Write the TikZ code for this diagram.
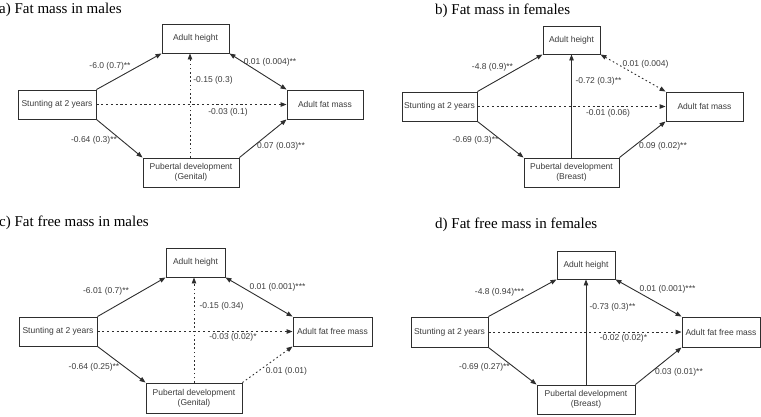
\documentclass[tikz,border=0pt]{standalone}
\usepackage{fontspec}
\setmainfont{Liberation Serif}
\setsansfont{Liberation Sans}
\usetikzlibrary{arrows.meta}
\definecolor{ink}{HTML}{2E2E2E}
\definecolor{lab}{HTML}{3C3C3C}
\tikzset{
  box/.style={draw=ink, line width=0.9pt, fill=white, inner sep=0pt, minimum height=29pt,
    font=\sffamily\fontsize{8.5}{10}\selectfont, text=lab, align=center},
  lbl/.style={inner sep=0pt, font=\sffamily\fontsize{8.5}{10}\selectfont, text=lab},
  ttl/.style={inner sep=0pt, anchor=base west, font=\fontsize{15}{17}\selectfont, text=black},
  con/.style={draw=ink, line width=0.9pt, -{Triangle[length=6pt,width=4.5pt]}},
  bicon/.style={draw=ink, line width=0.9pt, {Triangle[length=6pt,width=4.5pt]}-{Triangle[length=6pt,width=4.5pt]}},
  dsh/.style={dash pattern=on 2.2pt off 2.6pt},
  dtt/.style={dash pattern=on 1.6pt off 2.6pt}
}
\begin{document}
\begin{tikzpicture}[x=1pt,y=-1pt]
\useasboundingbox (0,0) rectangle (761,416);
% ---------------- panel a
\node[ttl] (ta) at (-1,13.5) {a) Fat mass in males};
\node[box, minimum width=67pt] (aH) at (195.5,38.5) {Adult height};
\node[box, minimum width=78pt] (aS) at (57,104.5) {Stunting at 2 years};
\node[box, minimum width=76pt] (aF) at (325,104.5) {Adult fat mass};
\node[box, minimum width=96pt] (aP) at (191,172.5) {Pubertal development\\(Genital)};
\draw[con] (aS.north east) -- (aH.south west);
\draw[con] (aS.south east) -- (aP.north west);
\draw[con] (aP.north east) -- (aF.south west);
\draw[bicon] (aH.south east) -- (aF.north west);
\draw[con,dsh] (aS.east) -- (aF.west);
\draw[con,dtt] ([xshift=-1pt]aP.north) -- ([xshift=-1pt]aP.north |- aH.south);
\node[lbl] (la1) at (110,66) {-6.0 (0.7)**};
\node[lbl] (la2) at (270,62) {0.01 (0.004)**};
\node[lbl] (la3) at (213,80) {-0.15 (0.3)};
\node[lbl] (la4) at (228,112) {-0.03 (0.1)};
\node[lbl] (la5) at (94,140) {-0.64 (0.3)**};
\node[lbl] (la6) at (281,146) {0.07 (0.03)**};
% ---------------- panel b
\node[ttl] (tb) at (435,14.5) {b) Fat mass in females};
\node[box, minimum width=57pt, minimum height=28pt] (bH) at (571.5,40) {Adult height};
\node[box, minimum width=75pt] (bS) at (439.5,106.5) {Stunting at 2 years};
\node[box, minimum width=77pt] (bF) at (704.5,106.5) {Adult fat mass};
\node[box, minimum width=95pt] (bP) at (571.5,172.5) {Pubertal development\\(Breast)};
\draw[con] (bS.north east) -- (bH.south west);
\draw[con] (bS.south east) -- (bP.north west);
\draw[con] (bP.north east) -- (bF.south west);
\draw[bicon,dtt] (bH.south east) -- (bF.north west);
\draw[con,dsh] (bS.east) -- (bF.west);
\draw[con] (bP.north) -- (bP.north |- bH.south);
\node[lbl] (lb1) at (492.5,67) {-4.8 (0.9)**};
\node[lbl] (lb2) at (645.5,64) {0.01 (0.004)};
\node[lbl] (lb3) at (598.5,81) {-0.72 (0.3)**};
\node[lbl] (lb4) at (608,113) {-0.01 (0.06)};
\node[lbl] (lb5) at (475.5,140) {-0.69 (0.3)**};
\node[lbl] (lb6) at (663,146) {0.09 (0.02)**};
% ---------------- panel c
\node[ttl] (tc) at (-1,226) {c) Fat free mass in males};
\node[box, minimum width=59pt] (cH) at (195.5,262.5) {Adult height};
\node[box, minimum width=78pt] (cS) at (58,331.5) {Stunting at 2 years};
\node[box, minimum width=79pt] (cF) at (332.5,331.5) {Adult fat free mass};
\node[box, minimum width=96pt, minimum height=30pt] (cP) at (194,398) {Pubertal development\\(Genital)};
\draw[con] (cS.north east) -- (cH.south west);
\draw[con] (cS.south east) -- (cP.north west);
\draw[con,dtt] (cP.north east) -- (cF.south west);
\draw[bicon] (cH.south east) -- (cF.north west);
\draw[con,dsh] (cS.east) -- (cF.west);
\draw[con,dtt] (cP.north) -- (cP.north |- cH.south);
\node[lbl] (lc1) at (106,291) {-6.01 (0.7)**};
\node[lbl] (lc2) at (277.5,287) {0.01 (0.001)***};
\node[lbl] (lc3) at (221.5,306) {-0.15 (0.34)};
\node[lbl] (lc4) at (233,337) {-0.03 (0.02)*};
\node[lbl] (lc5) at (94,367) {-0.64 (0.25)**};
\node[lbl] (lc6) at (286.5,371) {0.01 (0.01)};
% ---------------- panel d
\node[ttl] (td) at (435,228) {d) Fat free mass in females};
\node[box, minimum width=58pt, minimum height=28pt] (dH) at (586,265) {Adult height};
\node[box, minimum width=77pt, minimum height=30pt] (dS) at (449.5,332) {Stunting at 2 years};
\node[box, minimum width=78pt, minimum height=30pt] (dF) at (721,332) {Adult fat free mass};
\node[box, minimum width=98pt] (dP) at (586,399.5) {Pubertal development\\(Breast)};
\draw[con] (dS.north east) -- (dH.south west);
\draw[con] (dS.south east) -- (dP.north west);
\draw[con] (dP.north east) -- (dF.south west);
\draw[bicon] (dH.south east) -- (dF.north west);
\draw[con,dsh] (dS.east) -- (dF.west);
\draw[con] (dP.north) -- (dP.north |- dH.south);
\node[lbl] (ld1) at (499.5,292) {-4.8 (0.94)***};
\node[lbl] (ld2) at (667.5,289) {0.01 (0.001)***};
\node[lbl] (ld3) at (612.5,307) {-0.73 (0.3)**};
\node[lbl] (ld4) at (623.5,338) {-0.02 (0.02)*};
\node[lbl] (ld5) at (484.5,367) {-0.69 (0.27)**};
\node[lbl] (ld6) at (679,372) {0.03 (0.01)**};
\end{tikzpicture}
\end{document}
